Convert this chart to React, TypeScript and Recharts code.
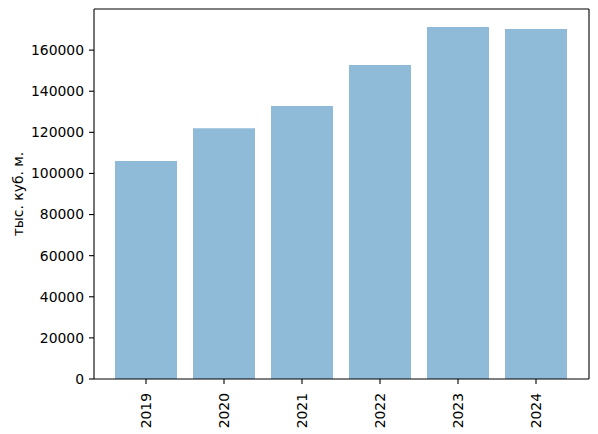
import React from "react";
import { BarChart, Bar, XAxis, YAxis } from "recharts";

const years = ["2019", "2020", "2021", "2022", "2023", "2024"];
const volumes = [106000, 122000, 132800, 152800, 171300, 170300];
const yTicks = [0, 20000, 40000, 60000, 80000, 100000, 120000, 140000, 160000];
const yMax = 180000;
const yLabel = "тыс. куб. м.";

const data = years.map((y, i) => ({ year: y, value: volumes[i] }));

const FONT = "DejaVu Sans";

const XTick = (props: any) => {
  const { x, y, payload } = props;
  const ay = y + 7;
  return (
    <text
      x={x}
      y={ay}
      transform={`rotate(-90, ${x}, ${ay})`}
      textAnchor="end"
      dominantBaseline="central"
      fontFamily={FONT}
      fontSize={13.9}
      fill="#000"
    >
      {payload.value}
    </text>
  );
};

const YLabel = (props: any) => {
  const vb = props.viewBox || {};
  const cx = (vb.x ?? 34) - 16;
  const cy = (vb.y ?? 9) + (vb.height ?? 370) / 2;
  return (
    <text
      x={cx}
      y={cy}
      transform={`rotate(-90, ${cx}, ${cy})`}
      textAnchor="middle"
      dominantBaseline="central"
      fontFamily={FONT}
      fontSize={13.9}
      fill="#000"
    >
      {yLabel}
    </text>
  );
};

const line = { stroke: "#000", strokeWidth: 1.1 };

export default function App() {
  return (
    <div style={{ position: "absolute", left: 0, top: 0, background: "#fff" }}>
      <BarChart
        width={598}
        height={434}
        data={data}
        margin={{ top: 8, right: 8, bottom: 0, left: 34 }}
      >
        <XAxis
          xAxisId="b"
          dataKey="year"
          type="category"
          height={55}
          padding={{ left: 13, right: 14 }}
          stroke="#000"
          axisLine={line}
          tickLine={line}
          tickSize={5}
          tick={<XTick />}
          interval={0}
        />
        <XAxis
          xAxisId="t"
          dataKey="year"
          type="category"
          orientation="top"
          height={1}
          stroke="#000"
          axisLine={line}
          tick={false}
          tickLine={false}
        />
        <YAxis
          yAxisId="l"
          width={60}
          domain={[0, yMax]}
          ticks={yTicks}
          interval={0}
          allowDataOverflow
          stroke="#000"
          axisLine={line}
          tickLine={line}
          tickSize={5}
          tickMargin={5}
          tick={{ fontFamily: FONT, fontSize: 13.9, fill: "#000" }}
          label={<YLabel />}
        />
        <YAxis
          yAxisId="r"
          orientation="right"
          width={1}
          domain={[0, yMax]}
          stroke="#000"
          axisLine={line}
          tick={false}
          tickLine={false}
        />
        <Bar
          xAxisId="b"
          yAxisId="l"
          dataKey="value"
          fill="#1f77b4"
          fillOpacity={0.5}
          barSize={62}
          isAnimationActive={false}
        />
      </BarChart>
    </div>
  );
}
